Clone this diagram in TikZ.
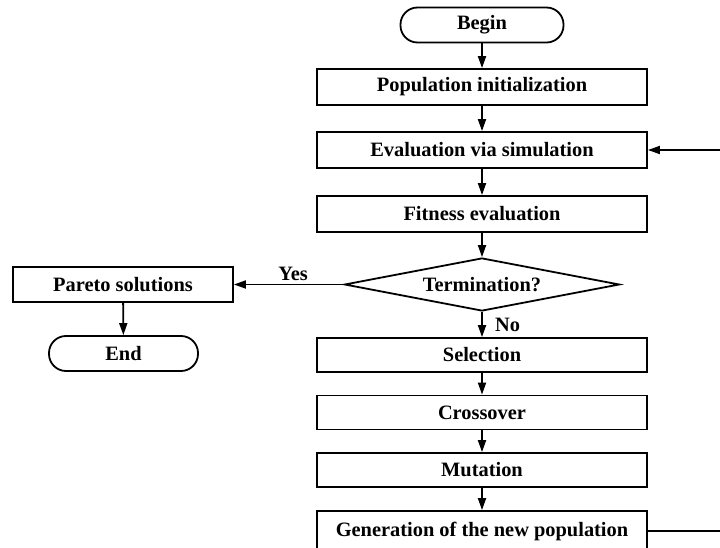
\documentclass[tikz,border=0pt]{standalone}
\usepackage{fontspec}
\setmainfont{Liberation Serif}
\usetikzlibrary{arrows.meta, shapes.geometric}

\tikzset{
  txt/.style={font=\bfseries\fontsize{20.4}{24}\selectfont},
  proc/.style={draw, txt, line width=1.8pt, minimum width=330pt, minimum height=36pt, inner sep=0pt},
  term/.style={draw, txt, line width=1.8pt, rounded corners=17pt, minimum height=35pt, inner sep=0pt},
  test/.style={draw, txt, diamond, line width=1.8pt, aspect=5.2, minimum width=275pt, minimum height=53pt, inner sep=0pt},
  flow/.style={-{Triangle[length=12pt,width=8pt]}, line width=1.8pt},
}

\begin{document}
\begin{tikzpicture}[x=1pt, y=-1pt]
    \useasboundingbox (0,0) rectangle (720,548);
    \clip (0,0) rectangle (720,548);

    % Main column
    \node[term, minimum width=163pt] (begin) at (482,25) {Begin};
    \node[proc] (pop) at (482,87) {Population initialization};
    \node[proc] (eval) at (482,150) {Evaluation via simulation};
    \node[proc] (fit) at (482,214) {Fitness evaluation};
    \node[test] (stop) at (482,284.5) {Termination?};
    \node[proc, minimum height=34pt] (sel) at (482,355) {Selection};
    \node[proc, minimum height=34pt] (cross) at (482,412.5) {Crossover};
    \node[proc, minimum height=34pt] (mut) at (482,470) {Mutation};
    \node[proc, minimum height=40pt] (gen) at (482,531) {Generation of the new population};

    % Exit branch
    \node[proc, minimum width=220pt, minimum height=35pt] (pareto) at (123,284.5) {Pareto solutions};
    \node[term, minimum width=149pt] (end) at (123.5,353.5) {End};

    % Loop corner, just past the right edge
    \coordinate (back) at (726,0);

    % Connectors
    \draw[flow] (begin) -- (pop);
    \draw[flow] (pop) -- (eval);
    \draw[flow] (eval) -- (fit);
    \draw[flow] (fit) -- (stop);
    \draw[flow] (stop) -- node[txt, right=9pt, midway] {No} (sel);
    \draw[flow] (sel) -- (cross);
    \draw[flow] (cross) -- (mut);
    \draw[flow] (mut) -- (gen);
    \draw[flow] (stop.west) -- node[txt, above, pos=0.46] {Yes} (pareto.east);
    \draw[flow] (pareto) -- (end);
    \draw[flow] (gen.east) -- (gen.east -| back) |- (eval.east);
\end{tikzpicture}
\end{document}
